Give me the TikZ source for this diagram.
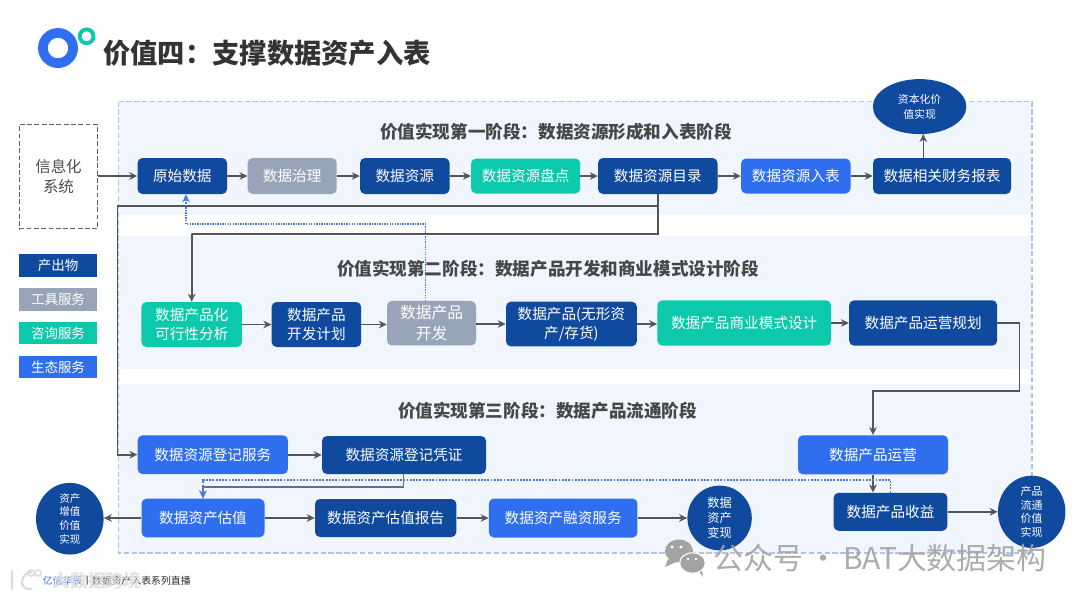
\documentclass[tikz,border=0pt]{standalone}
\usepackage{fontspec}
\usepackage{tikz}
\setmainfont{Noto Sans CJK SC}
\usetikzlibrary{shapes.geometric,arrows.meta,positioning,calc}
\definecolor{deepblue}{HTML}{0F4A9E}
\definecolor{toolgray}{HTML}{98A5B8}
\definecolor{teal}{HTML}{0CC9AB}
\definecolor{ecoblue}{HTML}{2F6FEF}
\definecolor{band}{HTML}{F0F5FE}
\definecolor{frameblue}{HTML}{B0C4E8}
\definecolor{flowgray}{HTML}{555555}
\definecolor{flowslate}{HTML}{5F6F90}
\definecolor{dotblue}{HTML}{4A7BD8}

\begin{document}
\begin{tikzpicture}[
  x=0.025cm, y=-0.025cm,
  stagebox/.style 2 args={
    rectangle, rounded corners=3.5pt, text=white, align=center, inner sep=0pt,
    font=\fontsize{10.4}{13.6}\selectfont,
    minimum width=#1*0.025cm, minimum height=#2*0.025cm
  },
  product/.style 2 args={stagebox={#1}{#2}, fill=deepblue},
  tool/.style 2 args={stagebox={#1}{#2}, fill=toolgray},
  consult/.style 2 args={stagebox={#1}{#2}, fill=teal},
  eco/.style 2 args={stagebox={#1}{#2}, fill=ecoblue},
  goal/.style 2 args={
    ellipse, fill=deepblue, text=white, align=center, inner sep=0pt,
    font=\fontsize{7.7}{10.6}\selectfont,
    minimum width=#1*0.025cm, minimum height=#2*0.025cm
  },
  legend/.style={
    rectangle, text=white, inner sep=0pt,
    minimum width=1.95cm, minimum height=0.56cm,
    font=\fontsize{9.6}{12}\selectfont
  },
  stagetitle/.style={font=\fontsize{12.5}{15}\selectfont\bfseries, text=black!72},
  flow/.style={-{Stealth[length=2mm,width=1.9mm]}, line width=1.15pt, flowgray},
  hint/.style={-{Stealth[length=2mm,width=1.9mm]}, line width=1pt, dash pattern=on 1pt off 0.8pt, dotblue}
]
\useasboundingbox (0,0) rectangle (1080,601);

% ---- Stage bands ----
\fill[band] (119,101) rectangle (1031,215);
\fill[band] (119,236) rectangle (1031,369);
\fill[band] (119,384) rectangle (1031,553);
\draw[frameblue, dash pattern=on 3.8pt off 1.8pt, line width=0.9pt] (118.5,101.5) rectangle (1032,553);

% ---- Logo and title ----
\draw[ecoblue, line width=6.9pt] (58,48) circle[radius=15.1];
\draw[teal, line width=2.8pt] (86.6,36.3) circle[radius=6.9];
\node[font=\fontsize{19.4}{23}\selectfont\bfseries, text=black!80] (title) at (267,53) {价值四：支撑数据资产入表};

% ---- Stage titles ----
\node[stagetitle] (stageone) at (556,132) {价值实现第一阶段：数据资源形成和入表阶段};
\node[stagetitle] (stagetwo) at (548,269) {价值实现第二阶段：数据产品开发和商业模式设计阶段};
\node[stagetitle] (stagethree) at (547.5,411) {价值实现第三阶段：数据产品流通阶段};

% ---- Source and legend ----
\node[draw=black!62, dash pattern=on 3.4pt off 1.8pt, line width=1pt, minimum width=1.96cm, minimum height=2.61cm,
  align=center, inner sep=0pt, text=black!70, font=\fontsize{11}{13.6}\selectfont] (src) at (58.5,176.5) {信息化\\系统};
\node[legend, fill=deepblue] (legprod) at (58,265.5) {产出物};
\node[legend, fill=toolgray] (legtool) at (58,299.5) {工具服务};
\node[legend, fill=teal] (legcons) at (58,333) {咨询服务};
\node[legend, fill=ecoblue] (legeco) at (58,367) {生态服务};

% ---- Stage one ----
\node[product={89.5}{36}] (raw) at (182.3,176) {原始数据};
\node[tool={89}{36}] (govern) at (292.2,176) {数据治理};
\node[product={89.5}{36}] (resource) at (404.8,176) {数据资源};
\node[consult={109}{35}] (audit) at (525.7,176) {数据资源盘点};
\node[product={119.5}{36}] (catalog) at (657.8,176) {数据资源目录};
\node[eco={109.5}{35}] (entry) at (795.8,176) {数据资源入表};
\node[product={138}{36}] (finance) at (942,176) {数据相关财务报表};
\node[goal={93.5}{55}] (capital) at (919.6,106.6) {资本化价\\值实现};

% ---- Stage two ----
\node[consult={100.5}{45}] (feasible) at (191.7,324.5) {数据产品化\\可行性分析};
\node[product={89.5}{45}] (devplan) at (316.4,324.5) {数据产品\\开发计划};
\node[tool={89}{44.5}, font=\fontsize{11.2}{15}\selectfont] (develop) at (431.5,323.2) {数据产品\\开发};
\node[product={130.8}{44.7}] (dataprod) at (571.4,324) {数据产品(无形资\\产/存货)};
\node[consult={173.6}{45.4}] (bizmodel) at (744.2,323) {数据产品商业模式设计};
\node[product={148}{45.4}] (opsplan) at (923.2,323) {数据产品运营规划};

% ---- Stage three ----
\node[eco={150.3}{38.7}] (regserv) at (212.8,454.7) {数据资源登记服务};
\node[product={164}{38}] (regcert) at (404,455) {数据资源登记凭证};
\node[eco={123}{38.6}] (valuation) at (203,518) {数据资产估值};
\node[product={141.3}{38}] (report) at (385.7,518) {数据资产估值报告};
\node[eco={148.5}{39}] (finserv) at (563.2,518) {数据资产融资服务};
\node[goal={64.4}{64.7}, font=\fontsize{8.7}{10.6}\selectfont] (realize) at (719.6,518) {数据\\资产\\变现};
\node[eco={150}{39}] (prodops) at (873,454.8) {数据产品运营};
\node[product={113.7}{38}] (income) at (890.5,511.8) {数据产品收益};
\node[goal={67.5}{67}, font=\fontsize{7.8}{9.7}\selectfont] (circulate) at (1031.7,511.8) {产品\\流通\\价值\\实现};
\node[goal={67.6}{67.3}, font=\fontsize{7.5}{9.7}\selectfont] (appreciate) at (69.8,518.7) {资产\\增值\\价值\\实现};

% ---- Turning points ----
\coordinate (capfoot) at (923.3,134);
\coordinate (leftbus) at (117.5,206);
\coordinate (midbus) at (191.5,234);
\coordinate (rightbus) at (1019.3,390.7);
\coordinate (hintfoot) at (425.3,301);
\coordinate (hintturn) at (186,224);
\coordinate (lowbus) at (403.6,486.7);
\coordinate (dotbus) at (890.5,479.8);

% ---- Flows ----
\draw[flow] (src.east |- raw) -- (raw);
\draw[flow] (raw) -- (govern);
\draw[flow] (govern) -- (resource);
\draw[flow] (resource) -- (audit);
\draw[flow] (audit) -- (catalog);
\draw[flow] (catalog) -- (entry);
\draw[flow] (entry) -- (finance);
\draw[flow] (capfoot |- finance.north) -- (capfoot);

\draw[flow] (catalog.south) |- (leftbus) |- (regserv.west);
\draw[flow] (catalog.south) |- (midbus) -| (feasible.north);

\draw[flow] (feasible) -- (devplan);
\draw[flow] (devplan) -- (devplan -| develop.west);
\draw[flow] (develop.east |- dataprod) -- (dataprod);
\draw[flow] (dataprod) -- (dataprod -| bizmodel.west);
\draw[flow] (bizmodel) -- (opsplan);
\draw[flow] (opsplan.east) -| (rightbus) -| (prodops.north);
\draw[flow] (prodops.south) -- (prodops.south |- income.north);

\draw[flow] (regserv.east |- regcert) -- (regcert);
\draw[flow, flowslate] (regcert.south -| lowbus) -- (lowbus) -| (valuation.north);
\draw[flow] (valuation) -- (valuation -| appreciate.east);
\draw[flow] (valuation) -- (report);
\draw[flow] (report) -- (finserv);
\draw[flow] (finserv) -- (realize);
\draw[flow] (income) -- (circulate);

% ---- Dotted returns ----
\draw[hint] (hintfoot) |- (hintturn) -- (hintturn |- raw.south);
\draw[hint, line width=1.3pt, dash pattern=on 1.3pt off 1pt] (income.north) |- (dotbus) -| (valuation.north);

% ---- Marks over the page ----
\begin{scope}[black!36]
  \fill (679,551) ellipse[x radius=14, y radius=11.5];
  \fill (668,559) -- (665,567) -- (676,562) -- cycle;
  \fill (698,570) -- (703,577) -- (701,567) -- cycle;
  \filldraw[draw=white, line width=0.8pt] (692.5,563) ellipse[x radius=12.8, y radius=10.3];
\end{scope}
\fill[white] (672,547) circle[radius=1.6] (681,547) circle[radius=1.6];
\fill[white] (688,559) circle[radius=1.4] (696,559) circle[radius=1.4];
\node[font=\fontsize{21.3}{25}\selectfont, text=black!36, opacity=0.9] (mark) at (880,558) {公众号\,·\,BAT大数据架构};
\node[font=\fontsize{7}{9}\selectfont, text=black!85, anchor=west] (footer) at (38,581) {{\color{ecoblue}亿信华辰}丨数据资产入表系列直播};
\draw[black!14, line width=1.6pt, line cap=round] (12,571) -- (12,589) (31,572) .. controls (20,574) and (18,590) .. (31,589);
\draw[black!14, line width=1pt] (31,573) circle[radius=3.2] (38,573) circle[radius=3.2];
\node[font=\fontsize{12.6}{15}\selectfont\bfseries, text=black!14, opacity=0.8] (crossmark) at (97,581) {大数据跨境};
\end{tikzpicture}
\end{document}
